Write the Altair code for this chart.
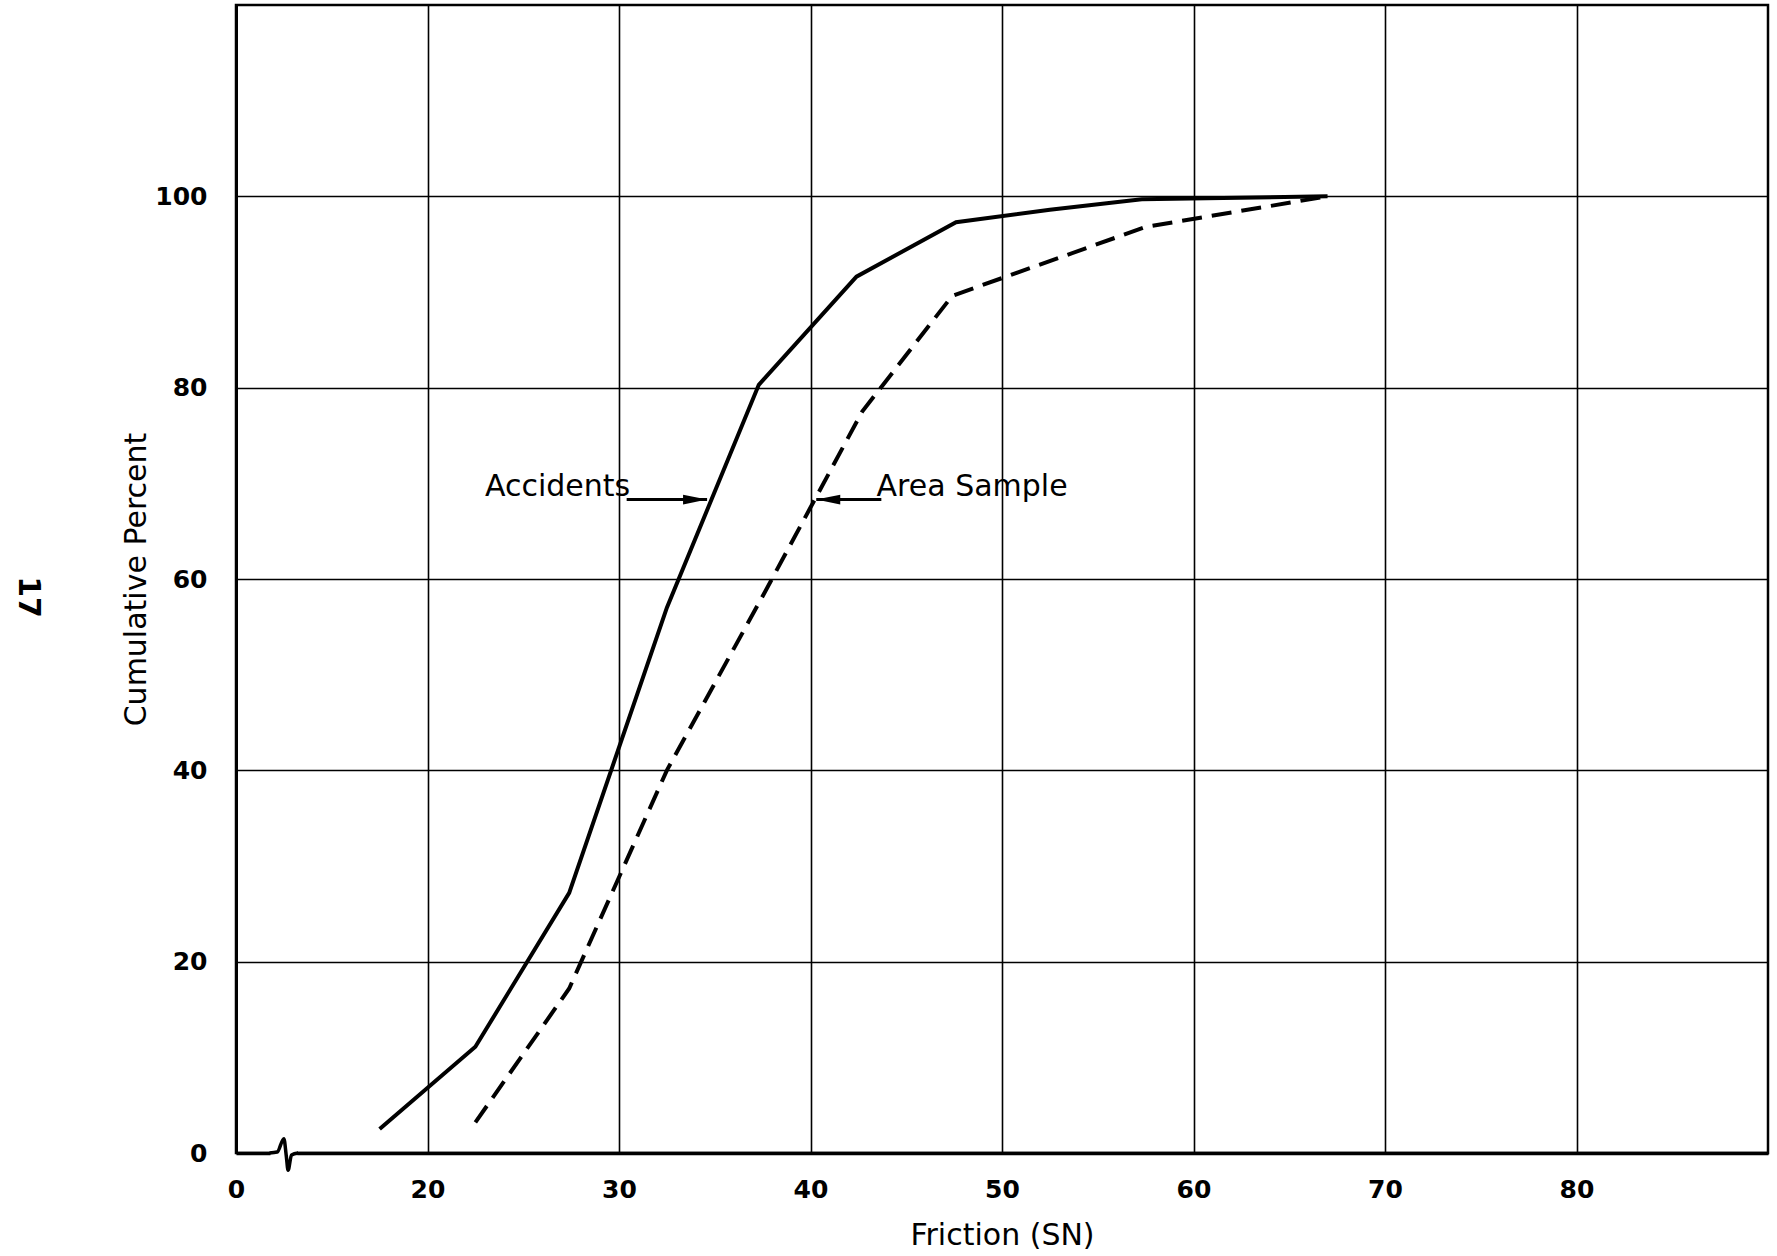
import altair as alt
import pandas as pd

# Cumulative percent of friction readings (SN) for accident sites and the area sample
acc_friction = [17.5, 22.5, 27.4, 32.5, 37.3, 42.4, 47.6, 52.5, 57.3, 67.0]
acc_percent = [2.5, 11.1, 27.2, 57.0, 80.3, 91.6, 97.3, 98.6, 99.7, 100.0]

area_friction = [22.5, 27.4, 32.5, 37.5, 42.7, 47.4, 57.5, 67.0]
area_percent = [3.2, 17.2, 40.0, 58.2, 77.5, 89.6, 96.8, 100.0]

# Tick positions; the first x tick sits at the axis break and is labelled 0
x_ticks = [10, 20, 30, 40, 50, 60, 70, 80]
y_ticks = [0, 20, 40, 60, 80, 100]

# Callout labels with their pointer arrows
label_text = ["Accidents", "Area Sample"]
label_x = [23.0, 43.45]
label_y = [68.7, 68.7]
arrow_from = [30.4, 43.7]
arrow_to = [34.6, 40.3]
arrow_y = [68.3, 68.3]
arrow_dir = ["right", "left"]

# Axis break symbol on the friction axis
break_x = [11.75, 12.15, 12.5, 12.62, 12.72, 12.9, 13.25]
break_y = [0.0, 0.1, 1.5, -0.2, -1.8, -0.2, 0.0]

FONT = "DejaVu Sans"

acc = pd.DataFrame({"friction": acc_friction, "percent": acc_percent})
area = pd.DataFrame({"friction": area_friction, "percent": area_percent})
labels = pd.DataFrame({"text": label_text, "x": label_x, "y": label_y})
arrows = pd.DataFrame({"x": arrow_from, "x2": arrow_to, "y": arrow_y, "dir": arrow_dir})
brk = pd.DataFrame({"x": break_x, "y": break_y, "order": list(range(len(break_x)))})
brk_gap = pd.DataFrame({"x": [break_x[0] + 0.05], "x2": [break_x[-1] - 0.05], "y": [0.0]})

x_scale = alt.Scale(domain=[10, 90], nice=False, zero=False)
y_scale = alt.Scale(domain=[0, 120], nice=False, zero=False)

x_axis = alt.Axis(
    title="Friction (SN)",
    values=x_ticks,
    labelExpr="datum.value == 10 ? '0' : datum.label",
    labelFlush=False,
    grid=True,
    gridColor="black",
    gridWidth=1.6,
    gridOpacity=1,
    ticks=False,
    domainColor="black",
    domainWidth=3.5,
    labelFont=FONT,
    labelFontSize=25,
    labelFontWeight="bold",
    labelColor="black",
    labelPadding=24,
    titleFont=FONT,
    titleFontSize=30,
    titleFontWeight="normal",
    titleColor="black",
    titlePadding=18,
)
y_axis = alt.Axis(
    title="Cumulative Percent",
    values=y_ticks,
    grid=True,
    gridColor="black",
    gridWidth=1.6,
    gridOpacity=1,
    ticks=False,
    domainColor="black",
    domainWidth=3,
    labelFont=FONT,
    labelFontSize=25,
    labelFontWeight="bold",
    labelColor="black",
    labelPadding=29,
    titleFont=FONT,
    titleFontSize=30,
    titleFontWeight="normal",
    titleColor="black",
    titlePadding=3,
)

accidents_line = alt.Chart(acc).mark_line(color="black", strokeWidth=4).encode(
    x=alt.X("friction:Q", scale=x_scale, axis=x_axis),
    y=alt.Y("percent:Q", scale=y_scale, axis=y_axis),
)

area_line = alt.Chart(area).mark_line(
    color="black", strokeWidth=4, strokeDash=[20, 10]
).encode(
    x=alt.X("friction:Q", scale=x_scale),
    y=alt.Y("percent:Q", scale=y_scale),
)

shafts = alt.Chart(arrows).mark_rule(color="black", strokeWidth=3).encode(
    x=alt.X("x:Q", scale=x_scale),
    x2="x2:Q",
    y=alt.Y("y:Q", scale=y_scale),
)

head_right = "M0,0L-2,-0.4L-2,0.4Z"
head_left = "M0,0L2,-0.4L2,0.4Z"
heads = alt.Chart(arrows).mark_point(
    filled=True, color="black", opacity=1, size=576
).encode(
    x=alt.X("x2:Q", scale=x_scale),
    y=alt.Y("y:Q", scale=y_scale),
    shape=alt.Shape(
        "dir:N",
        scale=alt.Scale(domain=["right", "left"], range=[head_right, head_left]),
        legend=None,
    ),
)

callouts = alt.Chart(labels).mark_text(
    align="left", baseline="alphabetic", font=FONT, fontSize=30, color="black"
).encode(
    x=alt.X("x:Q", scale=x_scale),
    y=alt.Y("y:Q", scale=y_scale),
    text="text:N",
)

gap = alt.Chart(brk_gap).mark_rule(color="white", strokeWidth=6).encode(
    x=alt.X("x:Q", scale=x_scale),
    x2="x2:Q",
    y=alt.Y("y:Q", scale=y_scale),
)

squiggle = alt.Chart(brk).mark_line(
    color="black", strokeWidth=3.5, interpolate="monotone"
).encode(
    x=alt.X("x:Q", scale=x_scale),
    y=alt.Y("y:Q", scale=y_scale),
    order="order:Q",
)

page_number = alt.Chart(pd.DataFrame({"t": ["17"]})).mark_text(
    font=FONT, fontSize=30, fontWeight="bold", color="black", angle=90,
    align="center", baseline="middle"
).encode(
    x=alt.value(-208),
    y=alt.value(592),
    text="t:N",
)

chart = (
    alt.layer(accidents_line, area_line, shafts, heads, callouts, gap, squiggle, page_number)
    .properties(
        width=1532,
        height=1148,
        autosize=alt.AutoSizeParams(type="none"),
        padding={"left": 236, "top": 5, "right": 9, "bottom": 103},
        background="white",
    )
    .configure_view(stroke="black", strokeWidth=2.5)
)

chart.save("out.html", embed_options={"renderer": "svg", "actions": False})
